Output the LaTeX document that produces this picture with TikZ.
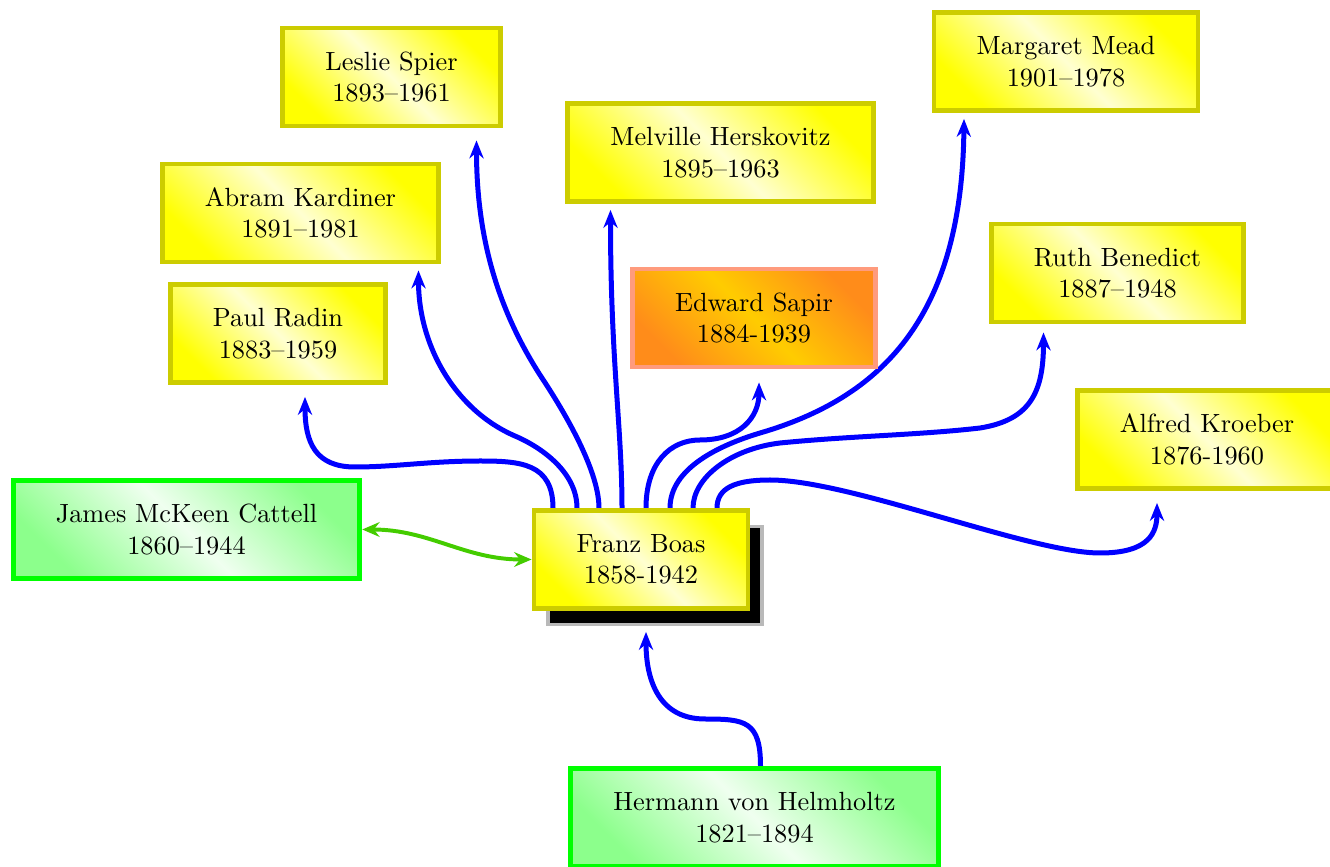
\documentclass[tikz,border=0pt]{standalone}
\usetikzlibrary{arrows.meta,calc,shadows,backgrounds}

\definecolor{boxrim}{RGB}{204,204,0}
\definecolor{sapirrim}{RGB}{255,155,125}
\definecolor{sapirout}{RGB}{255,140,26}
\definecolor{sapirin}{RGB}{255,204,0}
\definecolor{peergreen}{RGB}{68,204,0}
\definecolor{linkblue}{RGB}{0,0,255}

\tikzset{
  person/.style={rectangle, draw=boxrim, line width=1.8pt,
    left color=yellow, right color=yellow, middle color=yellow!18,
    shading angle=135, minimum height=37.3pt, inner xsep=16.2pt,
    align=center},
  elder/.style={person, draw=green,
    left color=green!45, right color=green!45, middle color=green!6,
    shading angle=135},
  linguist/.style={person, draw=sapirrim,
    left color=sapirout, right color=sapirout, middle color=sapirin,
    shading angle=135},
  link/.style={draw=linkblue, line width=1.9pt, -{Stealth[length=6.8pt,width=5.4pt,inset=2.2pt]}},
  peer/.style={draw=peergreen, line width=1.5pt,
    {Stealth[length=6.6pt,width=5.6pt,inset=2.2pt]}-{Stealth[length=6.6pt,width=5.6pt,inset=2.2pt]}}
}

\begin{document}
\begin{tikzpicture}[x=0.38pt, y=-0.38pt]
  \useasboundingbox (0,0) rectangle (1330,867);

  % the people
  \node[person] (spier)    at (391.5,77)    {Leslie Spier\\1893–1961};
  \node[person] (kardiner) at (300.5,213)   {Abram Kardiner\\1891–1981};
  \node[person] (radin)    at (278,333.5)   {Paul Radin\\1883–1959};
  \node[person] (hersk)    at (720.5,152.5) {Melville Herskovitz\\1895–1963};
  \node[linguist] (sapir)  at (754,318)     {Edward Sapir\\1884-1939};
  \node[person] (mead)     at (1066,61.5)   {Margaret Mead\\1901–1978};
  \node[person] (benedict) at (1117.5,273)  {Ruth Benedict\\1887–1948};
  \node[person] (kroeber)  at (1207,439.5)  {Alfred Kroeber\\1876-1960};
  \node[elder] (cattell)   at (186.5,529.5) {James McKeen Cattell\\1860–1944};
  \node[elder] (helm)      at (754.5,817.5) {Hermann von Helmholtz\\1821–1894};
  \node[person, general shadow={fill=black, draw=gray!55, line width=1.3pt,
        shadow xshift=5.3pt, shadow yshift=-6.1pt}]
        (boas) at (641,559.5) {Franz Boas\\1858-1942};

  % where the links leave Boas
  \coordinate (b1) at ($(boas.north)+(-88,0)$);
  \coordinate (b2) at ($(boas.north)+(-64,0)$);
  \coordinate (b3) at ($(boas.north)+(-42,0)$);
  \coordinate (b4) at ($(boas.north)+(-19,0)$);
  \coordinate (b5) at ($(boas.north)+(5,0)$);
  \coordinate (b6) at ($(boas.north)+(29,0)$);
  \coordinate (b7) at ($(boas.north)+(52,0)$);
  \coordinate (b8) at ($(boas.north)+(76,0)$);

  % where the links arrive
  \coordinate (radin-in)    at ($(radin.south)+(27,12)$);
  \coordinate (kardiner-in) at ($(kardiner.south)+(118,6)$);
  \coordinate (spier-in)    at ($(spier.south)+(85,12)$);
  \coordinate (hersk-in)    at ($(hersk.south)+(-110,6)$);
  \coordinate (sapir-in)    at ($(sapir.south)+(5,13)$);
  \coordinate (mead-in)     at ($(mead.south)+(-102,6)$);
  \coordinate (benedict-in) at ($(benedict.south)+(-74,8)$);
  \coordinate (kroeber-in)  at ($(kroeber.south)+(-50,12)$);
  \coordinate (helm-out)    at ($(helm.north)+(6,0)$);
  \coordinate (boas-in)     at ($(boas.south)+(5,21)$);

  \begin{scope}[on background layer]
    \draw[link] (b1) .. controls +(0,-45) and +(40,0) .. (480,461)
                     .. controls +(-50,0) and +(40,0) .. (355,467)
                     .. controls +(-40,0) and +(0,45) .. (radin-in);
    \draw[link] (b2) .. controls +(0,-35) and +(28,12) .. (515,436)
                     .. controls +(-60,-26) and +(0,75) .. (kardiner-in);
    \draw[link] (b3) .. controls +(0,-40) and +(20,30) .. (540,375)
                     .. controls +(-35,-55) and +(0,110) .. (spier-in);
    \draw[link] (b4) .. controls +(0,-80) and +(0,150) .. (hersk-in);
    \draw[link] (b5) .. controls +(0,-45) and +(-30,0) .. (700,440)
                     .. controls +(40,0) and +(0,35) .. (sapir-in);
    \draw[link] (b6) .. controls +(0,-40) and +(-40,12) .. (760,433)
                     .. controls +(120,-35) and +(-2,200) .. (mead-in);
    \draw[link] (b7) .. controls +(0,-30) and +(-50,6) .. (780,443)
                     .. controls +(70,-7) and +(-60,7) .. (980,428)
                     .. controls +(50,-8) and +(0,60) .. (benedict-in);
    \draw[link] (b8) .. controls +(0,-20) and +(-35,0) .. (770,480)
                     .. controls +(80,0) and +(-70,0) .. (1100,553)
                     .. controls +(50,0) and +(0,29) .. (kroeber-in);
    \draw[link] (helm-out) .. controls +(0,-45) and +(40,0) .. (705,719)
                     .. controls +(-45,0) and +(0,50) .. (boas-in);
  \end{scope}

  \draw[peer] (cattell.east) to[out=0,in=180] (boas.west);
\end{tikzpicture}
\end{document}
